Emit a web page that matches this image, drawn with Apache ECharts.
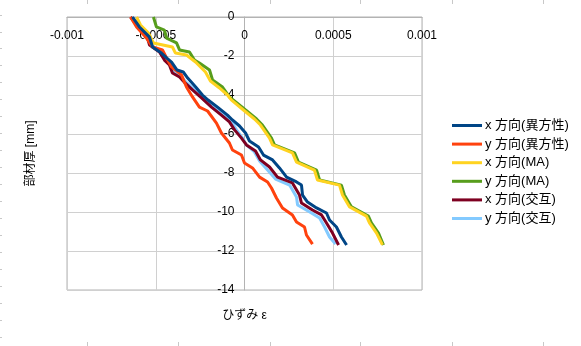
<!DOCTYPE html>
<html>
<head>
<meta charset="utf-8">
<script src="https://cdn.jsdelivr.net/npm/echarts@6/dist/echarts.min.js"></script>
<style>html,body{margin:0;padding:0;background:#fff}#c{width:581px;height:346px}</style>
</head>
<body>
<div id="c"></div>
<script>
// ---- data: [strain, depth (mm)] ----
const seriesNames = ['x 方向(異方性)', 'y 方向(異方性)', 'x 方向(MA)', 'y 方向(MA)', 'x 方向(交互)', 'y 方向(交互)'];
const seriesColors = ['#004586', '#ff420e', '#ffd320', '#579d1c', '#7e0021', '#83caff'];

const xAniso = [[-0.000631,0],[-0.000592,-0.51],[-0.000535,-1.03],[-0.000518,-1.54],[-0.000468,-1.85],[-0.000439,-2.10],[-0.000411,-2.31],[-0.000380,-2.72],[-0.000345,-2.82],[-0.000320,-3.13],[-0.000275,-3.59],[-0.000237,-4.00],[-0.000205,-4.26],[-0.000152,-4.62],[-0.000096,-5.03],[-0.000068,-5.28],[-0.000028,-5.59],[0.000006,-5.95],[0.000028,-6.36],[0.000079,-6.67],[0.000107,-7.08],[0.000158,-7.33],[0.000197,-7.74],[0.000237,-8.21],[0.000293,-8.46],[0.000321,-8.62],[0.000327,-9.13],[0.000355,-9.49],[0.000406,-9.79],[0.000462,-10.05],[0.000479,-10.41],[0.000518,-10.77],[0.000546,-11.28],[0.000575,-11.69]];

const yAniso = [[-0.000642,0],[-0.000608,-0.51],[-0.000552,-1.08],[-0.000518,-1.54],[-0.000462,-1.69],[-0.000439,-2.10],[-0.000411,-2.56],[-0.000355,-2.97],[-0.000327,-3.59],[-0.000293,-4.10],[-0.000254,-4.62],[-0.000208,-4.82],[-0.000158,-5.44],[-0.000130,-5.95],[-0.000085,-6.46],[-0.000068,-6.82],[-0.000017,-7.08],[0.000000,-7.49],[0.000045,-7.74],[0.000085,-8.21],[0.000130,-8.46],[0.000152,-8.77],[0.000180,-9.28],[0.000214,-9.79],[0.000270,-10.15],[0.000293,-10.51],[0.000338,-10.77],[0.000349,-11.18],[0.000383,-11.65]];

const xMA = [[-0.000608,0],[-0.000586,-0.41],[-0.000541,-0.82],[-0.000513,-1.33],[-0.000406,-1.54],[-0.000389,-1.85],[-0.000327,-1.95],[-0.000276,-2.31],[-0.000220,-2.82],[-0.000192,-3.28],[-0.000141,-3.64],[-0.000096,-4.00],[-0.000073,-4.26],[-0.000006,-4.77],[0.000056,-5.23],[0.000090,-5.54],[0.000141,-6.21],[0.000158,-6.56],[0.000270,-6.97],[0.000293,-7.44],[0.000394,-7.85],[0.000411,-8.36],[0.000535,-8.62],[0.000552,-9.13],[0.000592,-9.74],[0.000687,-10.21],[0.000704,-10.56],[0.000744,-11.08],[0.000777,-11.69]];

const yMA = [[-0.000513,0],[-0.000496,-0.51],[-0.000451,-0.67],[-0.000439,-1.08],[-0.000383,-1.33],[-0.000366,-1.69],[-0.000310,-1.79],[-0.000282,-2.21],[-0.000254,-2.36],[-0.000197,-2.72],[-0.000180,-3.23],[-0.000124,-3.59],[-0.000085,-4.10],[-0.000062,-4.26],[0.000006,-4.77],[0.000068,-5.23],[0.000101,-5.54],[0.000152,-6.21],[0.000169,-6.56],[0.000282,-6.97],[0.000304,-7.44],[0.000406,-7.85],[0.000423,-8.36],[0.000546,-8.62],[0.000563,-9.13],[0.000603,-9.74],[0.000698,-10.21],[0.000715,-10.56],[0.000755,-11.08],[0.000783,-11.69]];

const xAlt = [[-0.000642,0],[-0.000608,-0.41],[-0.000552,-0.92],[-0.000535,-1.44],[-0.000479,-1.79],[-0.000451,-2.21],[-0.000423,-2.46],[-0.000406,-2.87],[-0.000366,-3.08],[-0.000335,-3.38],[-0.000293,-3.74],[-0.000242,-4.15],[-0.000186,-4.62],[-0.000130,-5.03],[-0.000085,-5.38],[-0.000056,-5.79],[-0.000017,-6.21],[0.000011,-6.56],[0.000062,-6.87],[0.000090,-7.33],[0.000141,-7.69],[0.000186,-8.21],[0.000270,-8.51],[0.000310,-9.13],[0.000321,-9.54],[0.000383,-9.90],[0.000434,-10.15],[0.000462,-10.56],[0.000496,-11.08],[0.000530,-11.69]];

const yAlt = [[-0.000640,0],[-0.000600,-0.41],[-0.000545,-0.92],[-0.000525,-1.44],[-0.000470,-1.79],[-0.000440,-2.21],[-0.000412,-2.46],[-0.000395,-2.87],[-0.000355,-3.08],[-0.000325,-3.38],[-0.000282,-3.74],[-0.000231,-4.15],[-0.000175,-4.62],[-0.000118,-5.03],[-0.000073,-5.38],[-0.000045,-5.79],[-0.000011,-6.21],[0.000011,-6.56],[0.000056,-6.92],[0.000085,-7.38],[0.000130,-7.85],[0.000175,-8.31],[0.000254,-8.62],[0.000293,-9.23],[0.000299,-9.64],[0.000377,-10.05],[0.000423,-10.31],[0.000451,-10.77],[0.000479,-11.28],[0.000513,-11.64]];

const allSeries = [xAniso, yAniso, xMA, yMA, xAlt, yAlt];

const xTickLabels = ['-0.001', '-0.0005', '0', '0.0005', '0.001'];

// ---- decoration: spreadsheet cell marks ----
const colMarks = [87, 178, 270, 360, 452, 543];
const rowMarks = [15, 32, 48, 65, 82, 99, 116, 133, 150, 167, 184, 201, 218, 235, 252, 269, 286, 303, 320, 337];
const deco = [];
colMarks.forEach(x => {
  deco.push({type: 'line', shape: {x1: x + 0.5, y1: 0, x2: x + 0.5, y2: 4}, style: {stroke: '#c8c8c8', lineWidth: 1}});
  deco.push({type: 'line', shape: {x1: x + 0.5, y1: 342, x2: x + 0.5, y2: 346}, style: {stroke: '#c8c8c8', lineWidth: 1}});
});
rowMarks.forEach(y => {
  deco.push({type: 'line', shape: {x1: 0, y1: y + 0.5, x2: 2, y2: y + 0.5}, style: {stroke: '#c8c8c8', lineWidth: 1}});
});

const FONT = '"Liberation Sans", "Noto Sans CJK JP", sans-serif';
const chart = echarts.init(document.getElementById('c'), null, {renderer: 'canvas'});
chart.setOption({
  animation: false,
  backgroundColor: '#fff',
  textStyle: {fontFamily: FONT},
  graphic: deco,
  grid: {left: 67, right: 159, top: 17, bottom: 56, show: true, borderColor: '#b3b3b3', borderWidth: 1,
         containLabel: false, outerBoundsMode: 'none'},
  legend: {
    orient: 'vertical', left: 447, top: 114,
    icon: 'rect', itemWidth: 30, itemHeight: 3, itemGap: 5.6,
    textStyle: {fontFamily: FONT, fontSize: 13, color: '#000', padding: [0,0,0,-2]},
    data: seriesNames
  },
  xAxis: {
    type: 'value', min: -0.001, max: 0.001, interval: 0.0005,
    position: 'top',
    name: 'ひずみ ε', nameLocation: 'middle', nameGap: -305,
    nameTextStyle: {fontFamily: FONT, fontSize: 12, color: '#000'},
    axisLine: {show: true, onZero: false, lineStyle: {color: '#b3b3b3'}},
    axisTick: {show: false},
    axisLabel: {inside: true, fontFamily: FONT, fontSize: 12, color: '#000', margin: 13,
      showMinLabel: true, showMaxLabel: true,
      formatter: v => { const i = Math.round((v + 0.001) / 0.0005); return xTickLabels[i]; }},
    splitLine: {show: true, lineStyle: {color: '#d0d0d0', width: 1}}
  },
  yAxis: {
    type: 'value', min: -14, max: 0, interval: 2,
    position: 'left', offset: -177.5,
    name: '部材厚 [mm]', nameLocation: 'middle', nameGap: 208, nameRotate: 90,
    nameTextStyle: {fontFamily: FONT, fontSize: 12, color: '#000'},
    axisLine: {show: true, onZero: false, lineStyle: {color: '#b3b3b3'}},
    axisTick: {show: false},
    axisLabel: {fontFamily: FONT, fontSize: 12, color: '#000', margin: 10, showMinLabel: true, showMaxLabel: true},
    splitLine: {show: true, lineStyle: {color: '#d0d0d0', width: 1}}
  },
  series: allSeries.map((d, i) => ({
    name: seriesNames[i],
    type: 'line',
    data: d,
    showSymbol: false,
    symbol: 'none',
    z: 10 - i,
    lineStyle: {color: seriesColors[i], width: 3},
    itemStyle: {color: seriesColors[i]}
  }))
});
</script>
</body>
</html>
